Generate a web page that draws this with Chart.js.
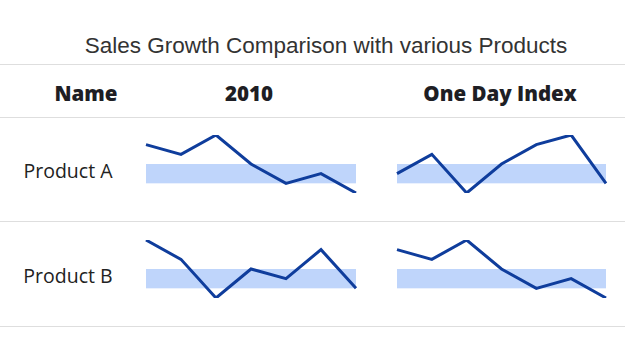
<!DOCTYPE html>
<html>
<head>
<meta charset="utf-8">
<script src="https://cdn.jsdelivr.net/npm/chart.js@4"></script>
<style>
    body { margin: 0; width: 625px; height: 343px; background: #fff; position: relative; overflow: hidden; }
    .title { position: absolute; left: 0; width: 652px; top: 33px; text-align: center;
             font-family: "Liberation Sans", Arial, sans-serif; font-size: 22.5px; color: #333; }
    .rule { position: absolute; left: 0; width: 625px; height: 1px; background: #dedede; }
    .head { position: absolute; top: 79px; font-family: "Open Sans", sans-serif; font-weight: 800;
            font-size: 20.5px; color: #1e1e24; text-align: center; }
    .name { position: absolute; left: 0; width: 136px; font-family: "Open Sans", sans-serif;
            font-size: 19.5px; color: #222; text-align: center; }
    canvas { position: absolute; }
</style>
</head>
<body>
<div class="title">Sales Growth Comparison with various Products</div>
<div class="rule" style="top:64px"></div>
<div class="rule" style="top:117px"></div>
<div class="rule" style="top:221px"></div>
<div class="rule" style="top:326px"></div>

<div class="head" style="left:35px;width:102px">Name</div>
<div class="head" style="left:199px;width:100px">2010</div>
<div class="head" style="left:420px;width:160px">One Day Index</div>

<div class="name" style="top:157px">Product A</div>
<div class="name" style="top:262px">Product B</div>

<canvas id="a2010" style="left:136px;top:125px" width="230" height="78"></canvas>
<canvas id="aIndex" style="left:387px;top:125px" width="229" height="78"></canvas>
<canvas id="b2010" style="left:136px;top:230px" width="230" height="78"></canvas>
<canvas id="bIndex" style="left:387px;top:230px" width="229" height="78"></canvas>

<script>
// Sparkline data
const products = ["Product A", "Product B"];
const columns = ["2010", "One Day Index"];
const productA2010 = [5, 4, 6, 3, 1, 2, 0];
const productAIndex = [2, 4, 0, 3, 5, 6, 1];
const productB2010 = [6, 4, 0, 3, 2, 5, 1];
const productBIndex = [5, 4, 6, 3, 1, 2, 0];
const bandStart = 1;
const bandEnd = 3;

// draws the light blue range band behind the line
const rangeBand = {
    id: "rangeBand",
    beforeDatasetsDraw(chart) {
        const ctx = chart.ctx;
        const area = chart.chartArea;
        const y = chart.scales.y;
        const top = y.getPixelForValue(bandEnd);
        const bottom = y.getPixelForValue(bandStart);
        ctx.save();
        ctx.fillStyle = "#bfd5fb";
        ctx.fillRect(area.left, top, area.right - area.left, bottom - top);
        ctx.restore();
    }
};

function sparkline(id, values) {
    new Chart(document.getElementById(id), {
        type: "line",
        data: {
            labels: values.map((v, i) => i),
            datasets: [{
                data: values,
                borderColor: "#0f3d9c",
                borderWidth: 3,
                pointRadius: 0,
                tension: 0,
                fill: false
            }]
        },
        options: {
            responsive: false,
            animation: false,
            layout: { padding: 10 },
            plugins: { legend: { display: false }, tooltip: { enabled: false } },
            scales: {
                x: { display: false },
                y: { display: false, min: Math.min(...values), max: Math.max(...values) }
            }
        },
        plugins: [rangeBand]
    });
}

sparkline("a2010", productA2010);
sparkline("aIndex", productAIndex);
sparkline("b2010", productB2010);
sparkline("bIndex", productBIndex);
</script>
</body>
</html>
